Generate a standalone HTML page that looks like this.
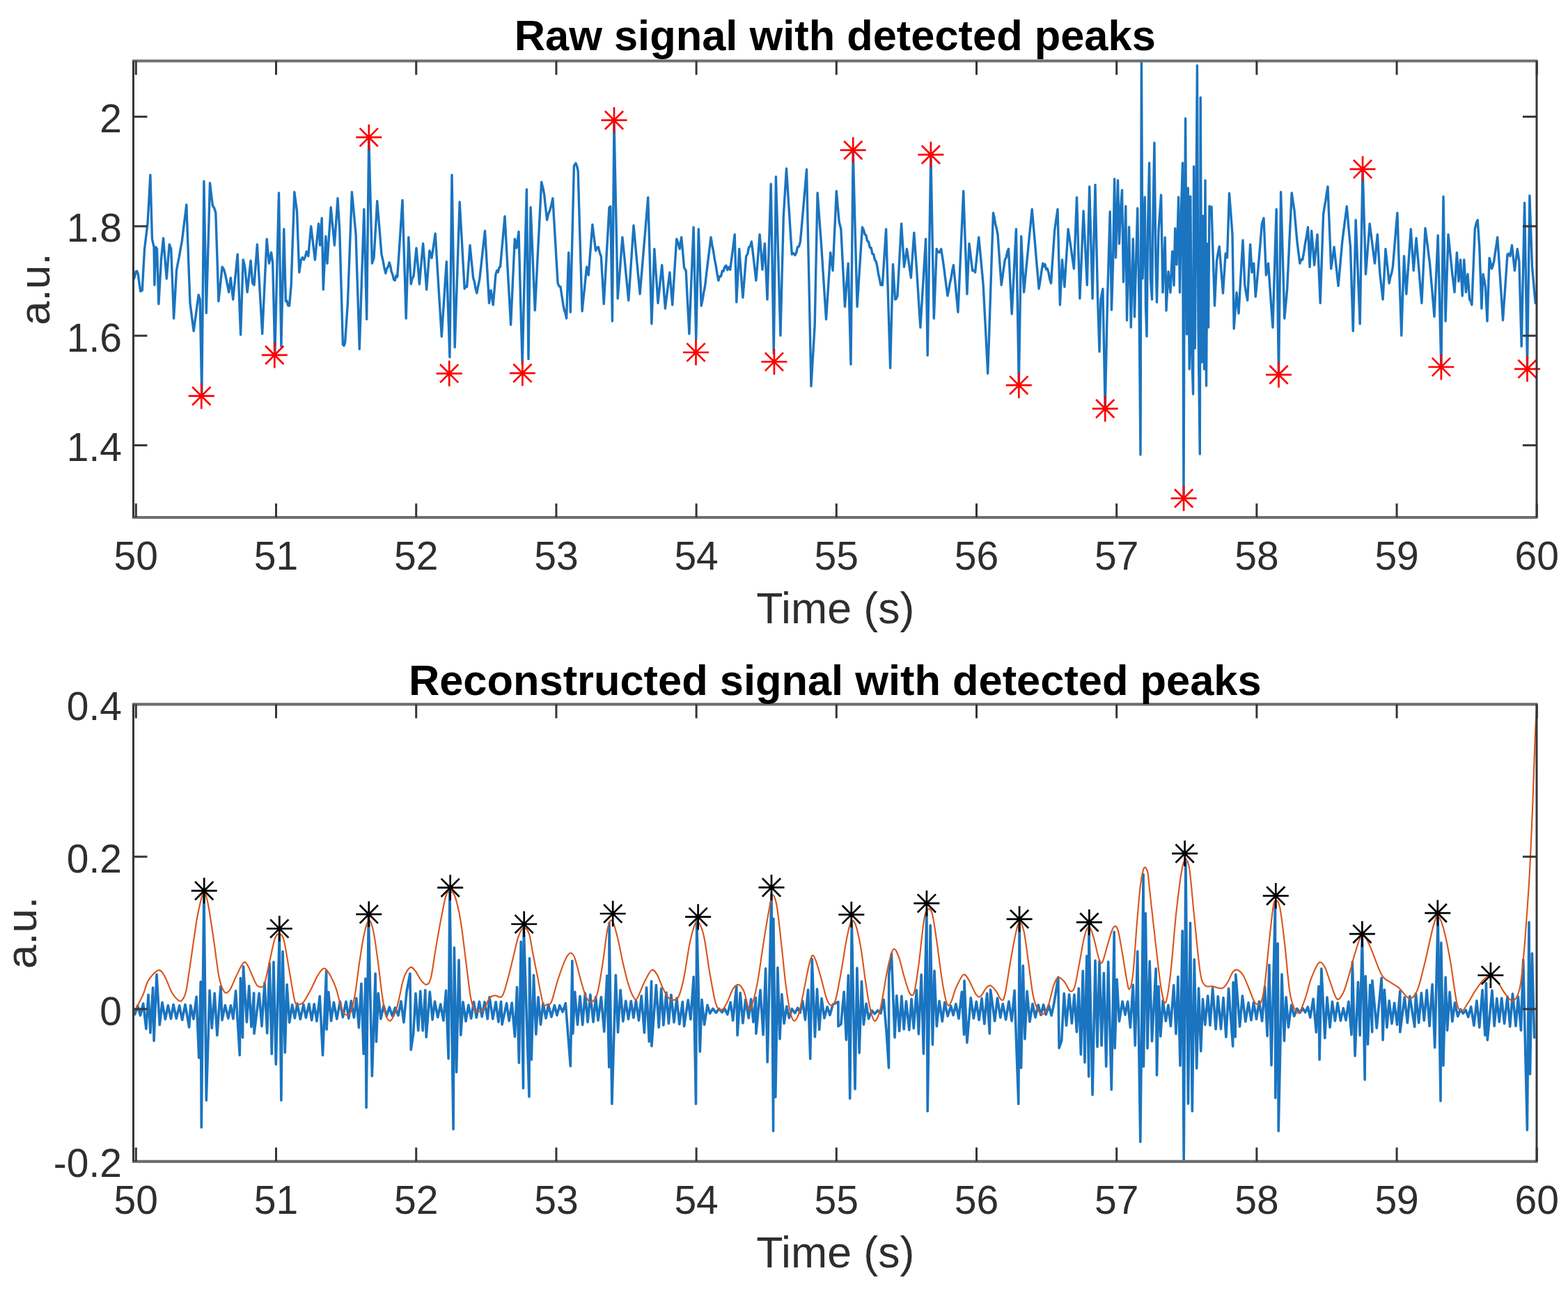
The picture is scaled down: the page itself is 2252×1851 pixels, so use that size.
<!DOCTYPE html>
<html><head><meta charset="utf-8"><title>Detected peaks</title>
<style>html,body{margin:0;padding:0;background:#fff;width:2252px;height:1851px;overflow:hidden}svg{display:block;filter:blur(0.6px)}</style>
</head><body>
<svg width="2252" height="1851" viewBox="0 0 2252 1851" font-family='"Liberation Sans", Arial, Helvetica, sans-serif' fill="#2e2e2e"><defs><clipPath id="ct"><rect x="191.5" y="87.5" width="2015.5" height="655.5"/></clipPath><clipPath id="cb"><rect x="191.5" y="1011.4" width="2015.5" height="656.4"/></clipPath></defs>
<g clip-path="url(#ct)">
<polyline points="190.0,409.3 191.7,401.6 193.5,397.4 195.2,389.8 196.7,389.3 198.3,393.7 200.0,406.2 201.7,418.3 204.3,417.0 205.9,387.2 207.6,357.4 209.8,339.3 212.0,321.1 214.0,286.1 215.9,251.1 218.5,343.2 221.1,354.8 221.9,409.3 223.7,354.8 225.5,357.4 227.9,436.5 229.7,404.7 231.5,373.0 233.0,357.4 234.6,341.9 236.1,361.3 237.7,380.7 239.3,400.2 241.2,375.6 243.2,350.9 245.7,357.4 247.7,407.3 249.6,457.2 251.6,422.9 253.5,388.5 255.5,377.5 257.4,368.5 259.4,356.5 261.3,347.0 262.9,333.8 264.5,320.5 266.2,307.2 267.8,293.9 269.5,341.0 271.2,388.1 273.0,435.2 274.7,448.5 276.4,462.1 278.2,475.4 279.9,462.3 281.7,449.6 283.4,436.3 285.2,423.5 287.2,430.0 289.8,567.4 291.4,413.8 292.9,260.2 294.6,354.8 296.3,449.5 298.0,387.2 299.8,325.0 301.5,262.8 303.4,279.0 305.4,295.2 307.6,298.5 309.8,305.6 311.9,369.1 313.9,432.6 315.7,416.2 317.4,399.8 319.1,383.3 321.3,386.5 323.5,393.7 326.1,406.7 328.7,419.6 331.3,398.9 333.0,414.5 334.7,430.0 336.2,414.5 337.8,398.9 339.5,382.0 341.2,365.2 343.4,422.9 345.6,480.6 347.4,426.8 349.2,373.0 350.6,378.1 352.0,385.9 353.6,402.8 355.2,419.6 356.8,404.5 358.4,389.4 360.1,374.3 362.7,406.7 365.0,409.3 367.2,380.1 369.4,350.9 371.2,383.0 373.0,415.1 374.9,447.2 376.7,479.3 378.3,445.2 379.9,411.2 381.5,377.2 383.2,343.2 384.8,360.7 386.5,378.2 388.1,369.6 389.6,362.6 391.7,378.2 393.3,444.3 394.8,510.4 396.7,432.6 398.6,354.8 400.5,277.0 402.2,387.2 403.9,497.4 405.8,413.2 407.8,328.9 410.4,432.6 412.1,432.0 413.8,438.9 415.6,439.1 418.2,409.3 419.7,364.8 421.3,320.3 422.8,275.7 424.6,289.2 426.5,303.0 428.1,347.0 429.8,391.1 432.4,373.0 434.4,369.8 436.3,373.0 438.2,369.3 440.2,361.3 442.8,367.8 444.7,346.4 446.7,325.0 448.6,341.0 450.5,357.0 452.4,373.0 454.1,355.7 455.8,338.4 457.6,321.1 459.6,352.2 462.2,313.3 464.3,415.8 466.1,377.5 467.9,339.3 470.0,378.2 471.7,351.4 473.5,324.6 475.2,297.8 476.9,315.9 478.7,334.1 480.4,352.2 481.9,329.8 483.5,307.3 485.0,284.8 486.4,308.2 487.8,331.5 489.3,385.9 490.9,440.4 492.4,494.8 494.0,496.3 495.6,492.2 497.5,463.7 499.4,435.2 501.4,382.0 503.4,328.9 505.4,275.7 507.3,296.1 509.2,316.4 511.1,336.7 512.8,391.6 514.6,446.4 516.3,501.3 517.9,451.1 519.5,400.8 521.2,350.6 522.8,300.4 524.7,379.5 526.7,458.5 528.2,327.6 529.8,196.7 531.3,257.2 532.9,317.7 534.4,378.2 537.0,370.4 538.6,343.2 540.2,315.9 541.7,288.7 543.8,314.2 545.9,339.7 547.9,365.2 549.9,373.3 551.9,384.5 553.9,392.4 555.6,385.5 557.3,383.4 559.1,376.9 560.7,382.1 562.3,390.5 563.9,394.1 565.6,401.5 567.3,402.7 569.0,395.8 570.7,397.6 572.6,370.1 574.4,342.5 576.2,315.0 578.0,287.4 579.7,344.0 581.5,400.6 583.2,457.2 585.0,398.9 586.8,340.6 588.5,374.3 590.2,408.0 592.1,400.1 594.1,396.3 596.0,376.2 598.0,356.1 600.2,382.0 602.4,408.0 604.1,388.5 605.8,369.1 607.6,349.6 609.3,371.7 611.0,393.7 612.7,415.8 614.8,387.9 616.9,360.0 618.4,364.0 620.0,370.4 621.7,359.0 623.5,346.7 625.2,335.4 627.0,364.9 628.8,394.5 630.6,424.0 632.5,453.6 634.3,483.2 636.0,456.3 637.8,429.4 639.5,402.5 641.3,375.6 642.8,421.4 644.4,467.2 645.9,513.0 647.5,382.0 649.0,251.1 651.1,374.9 653.2,498.7 654.9,446.5 656.7,394.4 658.4,342.2 660.2,290.0 661.9,321.1 663.7,352.2 665.4,383.3 667.2,414.5 668.9,411.4 670.6,411.9 672.8,382.0 675.0,352.2 676.5,367.8 678.1,383.3 679.6,398.9 681.4,404.7 683.1,414.5 684.8,420.9 686.8,410.5 688.7,401.5 690.7,384.0 692.6,366.5 694.5,349.0 696.5,331.5 698.5,366.1 700.5,400.6 702.5,435.2 705.0,417.0 706.6,427.0 708.2,437.8 710.1,415.8 712.0,393.7 713.7,388.5 715.3,390.9 716.9,384.2 718.5,383.3 720.1,365.2 721.8,347.0 723.4,328.9 725.0,310.7 726.7,341.9 728.4,373.0 730.1,404.1 731.9,435.2 733.6,466.3 735.5,425.3 737.4,384.2 739.3,343.2 741.9,356.1 743.4,344.2 745.0,332.8 746.7,396.3 748.4,459.8 750.2,523.3 752.2,439.5 754.3,355.7 756.4,271.9 759.0,515.6 760.5,406.7 762.1,297.8 764.2,347.0 766.2,396.3 768.3,445.6 770.2,408.8 772.0,371.9 773.9,335.1 775.8,298.3 777.6,261.5 779.7,269.1 781.7,279.6 783.6,297.8 785.6,315.9 787.5,307.5 789.4,303.0 791.6,295.6 793.9,284.8 795.7,315.3 797.5,345.7 799.3,376.2 801.1,406.7 803.1,411.1 805.0,411.9 806.9,424.5 808.9,437.8 810.4,445.3 812.0,449.4 813.6,457.2 815.1,409.9 816.7,362.6 819.3,448.2 821.0,378.2 822.7,308.2 824.4,238.2 827.0,234.3 828.6,238.6 830.2,245.9 832.1,312.9 834.1,379.9 836.1,446.9 837.7,431.0 839.4,415.1 841.0,399.2 842.6,383.3 845.2,395.0 847.1,370.8 849.0,346.6 850.9,322.4 852.4,334.9 854.0,347.5 855.6,360.0 857.5,355.5 859.4,354.8 861.4,363.1 863.3,367.8 865.3,402.1 867.2,436.5 869.2,401.8 871.1,367.1 873.1,332.5 875.0,297.8 876.8,296.5 879.4,461.1 882.0,173.3 883.7,258.5 885.5,343.6 887.2,428.7 888.9,406.7 890.6,384.6 892.2,362.6 893.9,340.6 895.7,358.7 897.5,376.9 899.2,395.0 901.0,413.2 902.7,431.3 904.6,404.4 906.4,377.5 908.2,350.6 910.0,323.7 911.8,343.4 913.6,363.1 915.4,382.8 917.3,402.5 919.1,422.2 921.0,399.1 923.0,376.0 924.9,352.9 926.9,329.8 928.8,306.6 930.7,283.5 932.5,344.0 934.2,404.5 935.9,465.0 937.9,411.2 939.8,357.4 941.5,383.3 943.3,409.3 945.0,435.2 946.9,417.0 948.8,398.9 950.7,380.7 952.3,401.5 953.8,422.2 955.4,443.0 957.0,430.0 958.6,417.0 960.2,404.1 961.9,391.1 963.8,414.5 965.7,437.8 967.7,406.2 969.7,374.7 971.7,343.2 973.9,348.7 976.1,357.4 978.7,340.6 980.7,362.6 982.6,384.6 985.2,388.5 986.7,418.8 988.3,449.0 989.9,479.3 991.9,428.3 994.0,377.3 996.1,326.3 997.9,406.7 999.7,487.0 1001.5,408.0 1003.3,328.9 1005.3,384.0 1007.2,439.1 1009.0,430.9 1010.7,419.9 1012.4,411.9 1014.1,397.6 1015.8,383.3 1017.5,369.1 1019.3,354.8 1021.0,340.6 1022.8,351.8 1024.6,360.8 1026.4,372.5 1028.2,381.4 1030.0,393.1 1031.9,402.8 1033.7,396.6 1035.5,396.9 1037.3,389.1 1039.1,389.5 1040.9,383.3 1042.9,381.2 1044.8,387.7 1046.8,383.6 1048.7,387.2 1050.3,374.7 1052.0,361.9 1053.6,349.4 1055.2,336.7 1057.8,433.9 1059.7,395.7 1061.7,357.4 1063.4,380.7 1065.1,404.1 1066.9,427.4 1068.5,407.5 1070.1,387.7 1071.7,367.8 1073.6,364.8 1075.6,355.1 1077.5,353.7 1079.4,347.0 1081.1,361.0 1082.7,374.9 1084.3,388.9 1085.9,402.8 1087.7,380.7 1089.4,358.7 1091.1,336.7 1093.1,362.0 1095.0,387.2 1096.7,368.4 1098.4,349.6 1100.2,389.8 1102.0,430.0 1103.7,374.7 1105.5,319.4 1107.2,264.1 1109.3,385.9 1111.3,507.8 1112.9,380.7 1114.4,253.7 1116.1,310.7 1117.7,367.8 1119.3,424.8 1120.9,481.9 1123.1,396.3 1125.3,310.7 1127.4,276.4 1129.5,242.0 1131.4,272.8 1133.4,303.6 1135.3,334.4 1137.3,365.2 1139.5,363.5 1141.7,366.5 1143.6,363.4 1145.6,354.4 1147.5,354.1 1149.4,347.0 1151.3,326.3 1153.1,305.6 1154.9,284.8 1156.7,264.1 1158.5,243.3 1160.1,321.1 1161.8,398.9 1163.4,476.7 1165.0,554.5 1166.7,525.1 1168.5,495.7 1170.2,466.3 1172.1,371.7 1174.1,277.0 1175.8,300.4 1177.5,323.7 1179.3,347.0 1181.1,374.9 1182.9,402.8 1184.7,430.7 1186.5,458.5 1188.6,426.6 1190.7,394.6 1192.7,362.6 1194.4,375.7 1196.1,388.5 1197.8,350.5 1199.6,312.5 1201.3,274.4 1203.2,296.5 1205.2,318.5 1207.8,328.9 1209.7,366.1 1211.6,403.2 1213.5,440.4 1215.0,419.6 1216.6,398.9 1218.2,378.2 1220.1,450.8 1222.0,523.3 1223.6,369.7 1225.2,216.1 1227.1,290.9 1229.1,365.6 1231.1,440.4 1232.9,411.9 1234.7,383.3 1236.6,354.8 1238.4,326.3 1240.2,329.5 1242.0,336.5 1243.8,337.7 1245.6,345.9 1247.5,347.4 1249.3,355.5 1251.1,355.7 1252.9,364.3 1254.7,365.3 1256.5,373.3 1258.3,375.6 1260.0,383.3 1261.6,393.6 1263.2,400.0 1264.8,409.3 1267.4,409.3 1269.1,382.5 1270.9,355.7 1272.6,328.9 1274.6,395.4 1276.6,462.0 1278.6,528.5 1280.5,454.0 1282.5,379.5 1284.0,404.7 1285.6,430.0 1287.2,429.2 1288.9,424.8 1290.8,390.3 1292.7,355.7 1294.6,321.1 1296.6,352.2 1298.5,383.3 1300.5,370.7 1302.4,357.4 1304.4,370.9 1306.4,385.4 1308.4,398.9 1310.6,366.5 1312.8,334.1 1314.7,361.3 1316.7,388.5 1318.4,415.8 1320.1,443.0 1321.9,470.2 1323.8,438.4 1325.8,406.7 1327.7,374.9 1329.6,343.2 1332.2,510.4 1333.8,414.5 1335.3,318.5 1336.9,222.6 1339.1,339.9 1341.3,457.2 1343.3,407.3 1345.2,357.4 1347.1,362.2 1349.1,362.6 1351.7,357.4 1353.6,369.8 1355.6,383.3 1357.3,397.2 1359.1,410.9 1360.9,424.8 1362.6,416.9 1364.3,406.3 1366.0,399.5 1367.7,388.7 1369.4,380.7 1371.1,397.6 1372.7,414.5 1374.3,431.3 1375.9,448.2 1377.9,404.7 1379.8,361.3 1381.8,317.9 1383.7,274.4 1385.4,323.7 1387.2,373.0 1388.9,422.2 1390.4,385.9 1392.0,349.6 1393.6,362.6 1395.1,375.6 1396.7,388.5 1398.6,388.1 1400.6,391.1 1402.3,374.3 1404.0,357.4 1405.7,340.6 1407.4,357.7 1409.0,374.9 1410.6,392.1 1412.2,409.3 1413.8,441.0 1415.5,472.8 1417.1,504.6 1418.7,536.3 1420.7,478.6 1422.6,420.9 1424.5,363.2 1426.5,305.6 1428.1,312.5 1429.7,322.1 1431.3,328.0 1433.0,336.7 1434.7,360.9 1436.4,385.1 1438.2,409.3 1439.9,397.5 1441.6,384.8 1443.3,373.0 1445.1,369.9 1446.8,361.2 1448.5,357.4 1450.1,388.5 1451.6,419.6 1453.2,450.8 1455.3,410.1 1457.3,369.5 1459.4,328.9 1461.4,440.4 1463.3,551.9 1465.0,445.6 1466.7,339.3 1468.6,379.5 1470.6,419.6 1472.5,399.8 1474.4,379.9 1476.4,360.0 1478.3,340.1 1480.3,320.3 1482.2,300.4 1484.2,323.2 1486.2,346.0 1488.1,368.8 1490.1,391.6 1492.1,414.5 1494.0,402.9 1495.9,389.6 1497.8,378.2 1499.4,382.6 1501.0,379.5 1502.6,386.8 1504.3,385.9 1506.0,391.6 1507.7,400.9 1509.5,406.7 1511.2,381.6 1512.9,356.6 1514.6,331.5 1516.8,315.6 1519.0,300.4 1520.7,369.1 1522.4,437.8 1524.0,405.4 1525.5,373.0 1527.2,392.4 1528.9,411.9 1530.6,384.2 1532.4,356.6 1534.1,328.9 1536.0,341.4 1538.0,354.8 1540.2,370.8 1542.4,385.9 1544.5,334.7 1546.5,283.5 1548.7,356.1 1550.9,428.7 1552.7,386.8 1554.4,344.9 1556.1,303.0 1557.8,338.4 1559.6,373.8 1561.3,409.3 1563.0,338.6 1564.7,268.0 1566.9,348.3 1569.1,428.7 1571.0,347.0 1573.0,265.4 1574.7,345.7 1576.5,426.0 1579.0,505.0 1581.0,430.0 1582.5,421.7 1583.9,415.0 1585.6,500.9 1587.2,586.9 1588.9,506.9 1590.6,427.0 1592.4,365.5 1594.2,304.0 1596.5,445.0 1598.5,380.0 1600.6,257.0 1602.5,370.0 1604.0,314.5 1605.5,259.0 1607.5,350.0 1609.5,300.0 1611.5,273.0 1613.5,405.0 1615.2,350.5 1616.8,296.0 1618.5,460.0 1620.0,393.0 1621.6,326.0 1622.9,398.0 1624.3,470.0 1625.8,406.5 1627.3,343.0 1629.5,455.0 1631.5,380.0 1633.7,299.0 1636.0,430.0 1638.0,653.0 1639.4,80.0 1641.0,400.0 1642.6,341.5 1644.2,283.0 1645.5,440.0 1647.0,483.0 1648.5,330.0 1650.6,234.0 1652.5,400.0 1654.5,430.0 1656.2,300.0 1657.9,205.0 1660.0,380.0 1661.5,434.0 1664.0,330.0 1665.8,305.0 1667.6,280.0 1670.0,420.0 1671.6,380.5 1673.2,341.0 1675.0,446.0 1676.5,418.0 1678.0,390.0 1679.5,405.0 1681.0,420.0 1682.3,390.5 1683.7,361.0 1686.0,410.0 1687.7,328.0 1690.0,380.0 1692.6,283.0 1694.5,420.0 1696.5,300.0 1698.5,234.0 1699.3,500.0 1700.0,716.0 1701.0,400.0 1702.6,170.0 1704.5,480.0 1706.3,270.0 1708.2,530.0 1709.8,282.0 1711.5,500.0 1713.6,566.0 1714.6,239.0 1716.3,500.0 1718.0,290.0 1719.4,94.0 1721.0,470.0 1723.3,652.0 1724.2,140.0 1726.0,520.0 1727.8,310.0 1729.5,530.0 1731.0,259.0 1732.5,554.0 1734.0,350.0 1735.5,470.0 1737.0,296.0 1738.5,299.1 1740.0,297.0 1742.2,368.0 1744.5,439.0 1746.0,407.0 1747.5,375.0 1749.3,363.6 1751.2,354.0 1753.0,376.3 1754.7,398.7 1756.5,421.0 1758.3,392.5 1760.2,364.0 1762.5,370.0 1764.0,323.8 1765.5,277.5 1767.8,307.2 1770.0,337.0 1772.2,472.0 1774.1,446.0 1776.0,420.0 1777.5,435.0 1779.0,450.0 1781.0,415.0 1783.0,380.0 1785.0,345.0 1786.4,377.1 1787.8,409.3 1789.7,421.1 1791.7,431.3 1793.6,391.1 1795.6,350.9 1798.1,391.1 1800.7,378.2 1803.3,426.1 1805.9,398.9 1807.5,379.5 1809.2,360.0 1810.8,340.6 1812.4,321.1 1815.0,313.3 1816.7,354.2 1818.4,395.0 1819.9,387.3 1821.5,378.2 1823.1,401.2 1824.7,424.2 1826.3,447.2 1828.0,470.2 1829.7,413.6 1831.4,357.0 1833.2,300.4 1834.8,419.6 1836.5,538.9 1838.1,407.3 1839.6,275.7 1841.4,336.2 1843.1,396.7 1844.8,457.2 1846.8,435.8 1848.7,414.5 1850.3,380.1 1851.9,345.7 1853.6,311.4 1855.2,277.0 1857.1,290.3 1859.1,303.0 1861.0,325.0 1863.0,347.0 1864.9,362.6 1866.9,378.2 1868.8,372.7 1870.7,373.0 1872.7,362.2 1874.6,349.2 1876.6,338.6 1878.5,326.3 1881.1,383.3 1883.7,331.5 1885.7,356.1 1887.6,380.7 1889.8,358.7 1892.0,336.7 1894.1,385.9 1896.2,435.2 1898.4,371.7 1900.6,308.2 1902.2,297.6 1903.8,288.8 1905.4,277.5 1907.0,268.0 1908.6,307.3 1910.2,346.6 1911.7,385.9 1913.9,370.7 1916.1,354.8 1918.1,373.4 1920.1,392.0 1922.1,410.6 1924.0,389.4 1925.9,368.2 1927.8,347.0 1929.4,334.3 1931.0,321.8 1932.6,309.1 1934.3,296.5 1936.0,315.9 1937.7,335.4 1939.5,354.8 1941.4,415.1 1943.3,475.4 1945.3,395.7 1947.2,315.9 1949.2,365.6 1951.2,415.3 1953.2,465.0 1955.1,354.2 1957.1,243.3 1959.3,318.5 1961.5,393.7 1963.4,369.5 1965.3,345.3 1967.2,321.1 1969.0,335.4 1970.8,349.6 1972.6,364.0 1974.5,378.2 1976.4,357.4 1978.3,336.7 1980.0,363.9 1981.7,391.1 1983.9,410.6 1986.1,430.0 1988.1,393.7 1990.0,357.4 1991.7,373.8 1993.5,390.3 1995.2,406.7 1996.9,397.8 1998.7,392.2 2000.4,383.3 2002.0,363.9 2003.6,344.5 2005.2,325.0 2006.9,305.6 2008.8,364.3 2010.8,423.1 2012.8,481.9 2014.6,424.8 2016.5,367.8 2018.1,395.0 2019.8,422.2 2021.4,398.9 2023.1,375.6 2024.7,352.2 2026.3,328.9 2028.2,358.7 2030.2,388.5 2032.1,365.2 2034.1,341.9 2036.0,365.2 2038.0,388.5 2039.9,411.9 2041.9,435.2 2043.6,399.3 2045.3,363.5 2047.0,327.6 2048.7,340.3 2050.3,352.8 2051.9,365.6 2053.5,378.2 2055.1,397.3 2056.8,416.4 2058.4,435.5 2060.0,454.6 2061.7,415.8 2063.5,376.9 2065.2,338.0 2066.8,401.1 2068.3,464.1 2069.9,527.2 2071.4,404.7 2073.0,282.2 2074.5,371.7 2076.1,461.1 2078.0,398.9 2080.0,336.7 2082.0,355.7 2083.9,374.7 2085.9,393.7 2087.5,406.7 2089.0,419.6 2090.7,391.1 2092.4,362.6 2095.0,404.1 2097.6,373.0 2100.2,424.8 2102.8,373.0 2105.4,419.6 2108.0,393.7 2110.6,430.0 2112.2,432.3 2113.9,437.8 2116.1,383.3 2118.3,328.9 2120.3,320.4 2122.2,315.9 2124.8,354.8 2126.4,398.9 2127.9,443.0 2130.0,393.7 2131.7,401.8 2133.4,411.9 2136.0,461.1 2137.5,415.8 2139.1,370.4 2140.8,377.0 2142.4,385.9 2144.0,382.2 2145.6,375.6 2147.3,363.6 2149.0,352.5 2150.7,340.6 2152.7,370.4 2154.6,400.2 2156.6,430.0 2158.5,459.8 2160.1,436.2 2161.8,412.5 2163.4,388.9 2165.0,365.2 2166.9,364.2 2168.9,367.8 2171.5,352.2 2173.4,370.4 2175.4,388.5 2177.3,373.0 2179.3,357.4 2181.9,375.6 2183.5,436.5 2185.2,497.4 2187.4,394.4 2189.6,291.3 2191.6,408.6 2193.5,525.9 2195.2,403.4 2196.9,280.9 2198.7,332.1 2200.5,383.3 2202.1,400.6 2203.6,417.9 2205.2,435.2 2207.1,421.7 2209.1,409.3" fill="none" stroke="#1a74bf" stroke-width="3.4" stroke-linejoin="round" stroke-linecap="round"/>
</g>
<path d="M270.8 568.7H307.8M289.3 550.2V587.2M276.2 555.6L302.4 581.8M276.2 581.8L302.4 555.6" stroke="#ff0000" stroke-width="2.7" fill="none"/>
<path d="M375.8 509.9H412.8M394.3 491.4V528.4M381.2 496.8L407.4 523.0M381.2 523.0L407.4 496.8" stroke="#ff0000" stroke-width="2.7" fill="none"/>
<path d="M511.3 197.2H548.3M529.8 178.7V215.7M516.7 184.1L542.9 210.3M516.7 210.3L542.9 184.1" stroke="#ff0000" stroke-width="2.7" fill="none"/>
<path d="M626.7 536.3H663.7M645.2 517.8V554.8M632.1 523.2L658.3 549.4M632.1 549.4L658.3 523.2" stroke="#ff0000" stroke-width="2.7" fill="none"/>
<path d="M731.9 535.8H768.9M750.4 517.3V554.3M737.3 522.7L763.5 548.9M737.3 548.9L763.5 522.7" stroke="#ff0000" stroke-width="2.7" fill="none"/>
<path d="M863.5 172.6H900.5M882.0 154.1V191.1M868.9 159.5L895.1 185.7M868.9 185.7L895.1 159.5" stroke="#ff0000" stroke-width="2.7" fill="none"/>
<path d="M981.0 506.0H1018.0M999.5 487.5V524.5M986.4 492.9L1012.6 519.1M986.4 519.1L1012.6 492.9" stroke="#ff0000" stroke-width="2.7" fill="none"/>
<path d="M1093.4 519.5H1130.4M1111.9 501.0V538.0M1098.8 506.4L1125.0 532.6M1098.8 532.6L1125.0 506.4" stroke="#ff0000" stroke-width="2.7" fill="none"/>
<path d="M1206.7 215.6H1243.7M1225.2 197.1V234.1M1212.1 202.5L1238.3 228.7M1212.1 228.7L1238.3 202.5" stroke="#ff0000" stroke-width="2.7" fill="none"/>
<path d="M1318.4 222.1H1355.4M1336.9 203.6V240.6M1323.8 209.0L1350.0 235.2M1323.8 235.2L1350.0 209.0" stroke="#ff0000" stroke-width="2.7" fill="none"/>
<path d="M1444.8 553.2H1481.8M1463.3 534.7V571.7M1450.2 540.1L1476.4 566.3M1450.2 566.3L1476.4 540.1" stroke="#ff0000" stroke-width="2.7" fill="none"/>
<path d="M1568.7 586.9H1605.7M1587.2 568.4V605.4M1574.1 573.8L1600.3 600.0M1574.1 600.0L1600.3 573.8" stroke="#ff0000" stroke-width="2.7" fill="none"/>
<path d="M1681.6 715.6H1718.6M1700.1 697.1V734.1M1687.0 702.5L1713.2 728.7M1687.0 728.7L1713.2 702.5" stroke="#ff0000" stroke-width="2.7" fill="none"/>
<path d="M1818.0 538.1H1855.0M1836.5 519.6V556.6M1823.4 525.0L1849.6 551.2M1823.4 551.2L1849.6 525.0" stroke="#ff0000" stroke-width="2.7" fill="none"/>
<path d="M1938.6 242.8H1975.6M1957.1 224.3V261.3M1944.0 229.7L1970.2 255.9M1944.0 255.9L1970.2 229.7" stroke="#ff0000" stroke-width="2.7" fill="none"/>
<path d="M2051.4 527.0H2088.4M2069.9 508.5V545.5M2056.8 513.9L2083.0 540.1M2056.8 540.1L2083.0 513.9" stroke="#ff0000" stroke-width="2.7" fill="none"/>
<path d="M2175.0 529.8H2212.0M2193.5 511.3V548.3M2180.4 516.7L2206.6 542.9M2180.4 542.9L2206.6 516.7" stroke="#ff0000" stroke-width="2.7" fill="none"/>
<g clip-path="url(#cb)">
<polyline points="190.0,1444.7 193.7,1456.7 197.7,1444.2 201.6,1458.2 205.7,1441.1 209.9,1477.4 213.0,1428.5 216.0,1483.1 219.6,1418.3 221.1,1494.6 225.0,1399.3 229.3,1471.8 233.0,1439.5 237.4,1463.6 241.4,1443.8 245.5,1462.9 249.1,1442.5 253.3,1462.6 257.7,1444.1 261.7,1464.6 266.0,1442.6 271.7,1475.1 273.7,1443.6 278.0,1463.3 282.1,1431.4 285.7,1518.9 288.2,1409.9 289.3,1619.0 292.9,1278.8 296.3,1580.1 301.1,1422.3 304.3,1476.4 308.2,1426.3 311.9,1486.8 317.0,1416.2 319.0,1465.0 323.4,1443.6 327.8,1462.4 331.4,1443.8 334.9,1463.0 338.6,1422.9 344.3,1515.3 345.4,1404.5 348.5,1490.0 349.5,1387.7 354.4,1467.8 357.7,1415.8 361.0,1474.7 364.7,1426.0 365.0,1484.2 372.2,1426.3 376.0,1473.6 380.0,1411.2 383.7,1483.8 387.1,1383.2 390.3,1513.4 393.0,1381.3 396.3,1528.4 401.3,1341.0 403.9,1580.1 406.1,1366.2 409.3,1511.5 412.1,1413.7 415.7,1468.2 419.7,1442.9 423.4,1462.1 426.9,1441.1 431.3,1463.6 435.9,1442.6 439.4,1461.4 443.8,1441.5 447.7,1464.9 451.2,1441.8 455.0,1466.4 459.3,1430.5 463.5,1515.3 468.7,1394.2 469.1,1478.3 471.8,1424.5 475.6,1466.0 479.4,1439.4 483.8,1463.3 488.4,1438.2 492.4,1460.7 497.0,1438.2 500.8,1462.5 504.3,1437.2 508.4,1461.1 511.8,1433.4 515.4,1475.7 518.9,1412.6 522.2,1513.5 524.9,1405.3 526.1,1590.5 529.3,1315.1 534.4,1545.1 539.1,1398.0 540.4,1496.0 543.3,1426.4 546.9,1463.0 551.0,1444.1 555.1,1459.1 559.3,1446.2 563.3,1458.6 567.5,1447.0 572.0,1458.1 576.0,1437.9 579.9,1468.1 584.1,1423.7 588.9,1398.0 590.2,1507.5 593.7,1484.6 597.0,1426.5 600.7,1479.8 603.7,1423.3 607.2,1479.9 610.8,1421.8 612.2,1489.4 617.3,1424.4 621.1,1464.2 624.5,1438.0 628.7,1460.8 632.7,1442.1 636.9,1465.5 640.6,1422.3 644.1,1520.1 645.9,1278.8 651.1,1621.6 652.4,1360.7 655.6,1539.8 659.0,1378.6 661.8,1486.4 665.0,1438.8 669.0,1466.6 672.8,1443.2 676.7,1462.6 680.4,1438.5 684.3,1461.1 688.4,1438.2 692.2,1459.9 696.0,1438.7 700.3,1463.1 703.0,1431.7 707.8,1463.1 712.1,1438.8 715.9,1467.4 719.6,1438.3 721.1,1471.2 727.6,1440.7 731.2,1466.0 735.2,1440.0 739.4,1488.6 742.5,1417.6 745.4,1526.1 748.2,1352.3 751.5,1562.7 752.2,1330.6 760.0,1574.9 760.5,1376.1 763.3,1521.6 766.5,1400.3 769.8,1485.3 773.1,1431.9 776.5,1471.3 780.0,1440.9 784.0,1462.1 787.6,1442.8 792.0,1460.3 796.4,1443.7 800.0,1458.0 803.8,1443.7 808.1,1453.1 812.3,1440.7 819.3,1530.9 821.9,1379.9 822.8,1484.1 825.6,1424.4 829.5,1471.4 833.0,1430.6 836.7,1471.7 840.4,1426.3 844.1,1467.8 847.8,1428.2 852.1,1467.6 855.6,1431.7 859.0,1465.3 863.4,1431.7 867.7,1481.3 871.8,1401.0 874.8,1532.5 875.0,1325.4 878.9,1585.3 884.3,1400.3 887.5,1482.4 891.1,1421.7 894.8,1466.7 898.7,1437.4 902.5,1463.4 906.3,1437.5 909.9,1461.4 913.4,1437.1 917.5,1465.4 921.2,1430.1 925.4,1483.0 928.5,1418.0 932.3,1495.8 935.6,1409.0 935.9,1502.3 942.4,1414.5 946.2,1475.4 949.7,1419.6 952.9,1472.2 956.9,1425.3 960.4,1469.8 963.9,1428.5 968.0,1468.0 971.9,1433.4 975.8,1470.7 980.3,1438.5 982.6,1473.8 988.2,1436.0 991.9,1463.8 996.2,1402.8 999.5,1585.3 1000.7,1320.3 1005.3,1510.3 1008.0,1435.6 1011.6,1471.5 1016.0,1443.2 1019.6,1455.2 1023.9,1448.3 1028.4,1454.3 1032.8,1448.6 1037.2,1453.7 1040.6,1448.4 1044.8,1456.8 1049.2,1439.3 1052.7,1465.4 1057.8,1416.2 1059.1,1486.8 1063.2,1425.9 1066.9,1469.1 1070.8,1435.2 1075.2,1462.0 1078.6,1434.7 1082.0,1467.8 1085.5,1432.8 1085.9,1484.2 1092.0,1421.8 1096.1,1485.9 1099.6,1390.9 1102.2,1525.1 1108.0,1284.0 1110.6,1624.2 1110.9,1319.2 1113.8,1575.5 1116.9,1389.5 1120.0,1491.9 1122.8,1427.7 1126.1,1469.8 1129.8,1445.0 1133.4,1461.8 1137.4,1448.7 1141.7,1454.8 1145.6,1447.4 1149.1,1454.3 1152.7,1437.2 1156.5,1464.4 1160.6,1421.4 1163.7,1520.5 1166.3,1377.3 1170.4,1488.9 1173.5,1420.4 1176.7,1478.6 1180.1,1433.7 1183.9,1462.0 1188.1,1445.9 1192.0,1457.6 1196.2,1442.3 1203.9,1438.7 1203.9,1473.8 1207.9,1470.6 1212.1,1424.2 1215.4,1493.2 1218.3,1400.6 1220.7,1577.5 1223.3,1322.9 1228.0,1564.0 1230.9,1390.1 1234.2,1511.9 1237.5,1409.4 1240.4,1471.2 1244.1,1441.3 1247.6,1462.9 1252.0,1451.0 1256.2,1455.9 1260.7,1451.0 1265.0,1455.2 1269.2,1435.4 1273.5,1486.6 1276.5,1533.5 1276.7,1398.0 1280.4,1369.5 1285.0,1489.8 1287.8,1429.7 1291.7,1480.7 1294.9,1430.2 1298.2,1478.0 1301.5,1437.7 1305.8,1479.1 1309.1,1434.6 1312.3,1476.7 1316.3,1421.7 1319.4,1485.0 1323.2,1399.5 1326.4,1513.3 1330.9,1307.3 1332.2,1595.7 1336.2,1328.7 1339.4,1500.1 1342.0,1394.1 1345.3,1473.7 1349.1,1437.5 1353.3,1466.7 1356.8,1439.4 1361.1,1459.2 1365.7,1444.4 1369.1,1457.8 1372.9,1441.7 1377.0,1462.8 1381.4,1424.2 1384.6,1485.8 1385.0,1408.4 1388.9,1497.2 1394.3,1432.9 1398.4,1462.4 1402.3,1438.4 1406.1,1464.7 1410.0,1433.9 1413.8,1470.3 1417.6,1426.5 1421.3,1484.2 1422.6,1421.4 1428.7,1466.2 1432.5,1433.3 1436.8,1461.3 1440.3,1441.5 1444.6,1464.1 1448.9,1438.0 1453.1,1466.1 1457.0,1422.4 1462.8,1585.3 1464.1,1325.4 1466.6,1533.5 1469.3,1386.8 1471.9,1492.0 1475.1,1423.4 1479.0,1467.2 1483.0,1441.6 1487.0,1460.9 1491.2,1443.0 1494.9,1457.5 1498.6,1442.8 1502.2,1457.1 1506.3,1443.5 1510.1,1458.3 1513.8,1441.0 1519.8,1403.2 1521.1,1504.9 1524.7,1494.4 1528.2,1426.5 1531.5,1472.7 1535.6,1428.0 1539.4,1469.5 1542.9,1428.2 1546.4,1481.8 1549.3,1419.2 1552.4,1514.2 1555.2,1394.4 1558.0,1525.7 1560.8,1372.8 1563.7,1545.9 1563.9,1330.6 1569.1,1572.3 1573.0,1379.3 1576.0,1503.1 1579.1,1380.2 1582.1,1501.5 1585.4,1397.2 1588.7,1531.4 1591.7,1381.1 1596.3,1564.6 1600.2,1338.4 1601.2,1505.3 1604.1,1406.3 1607.5,1466.6 1612.1,1438.0 1616.0,1457.2 1619.7,1438.2 1623.4,1475.5 1627.2,1414.4 1630.3,1501.4 1633.7,1366.1 1637.8,1639.8 1642.1,1255.6 1642.5,1531.6 1645.3,1311.6 1648.0,1505.5 1651.2,1380.4 1654.5,1495.2 1660.1,1391.1 1661.5,1543.9 1664.0,1416.4 1666.8,1488.2 1670.2,1436.8 1674.4,1466.2 1677.9,1443.2 1681.4,1473.5 1685.7,1414.8 1689.0,1484.6 1691.9,1402.6 1695.0,1530.2 1698.2,1336.7 1700.2,1665.6 1702.9,1233.5 1706.5,1584.9 1709.5,1325.2 1712.3,1595.8 1715.3,1377.9 1718.7,1534.2 1721.6,1419.1 1724.7,1509.5 1727.5,1434.8 1730.8,1471.6 1734.7,1430.1 1738.0,1472.3 1741.6,1418.8 1746.1,1477.8 1749.3,1430.7 1753.5,1477.6 1757.0,1432.7 1760.9,1489.2 1764.6,1419.5 1770.7,1502.5 1771.1,1410.5 1774.2,1489.0 1774.8,1399.4 1780.6,1474.2 1784.4,1430.0 1788.8,1467.0 1793.0,1439.9 1797.0,1464.9 1800.5,1439.2 1804.5,1463.5 1808.4,1438.1 1812.6,1466.3 1816.6,1417.0 1820.1,1487.8 1822.9,1385.5 1826.0,1529.8 1831.5,1297.1 1831.8,1576.6 1835.2,1354.7 1836.2,1624.1 1841.0,1399.0 1844.4,1494.8 1847.1,1431.9 1850.5,1475.3 1854.6,1443.4 1858.7,1459.2 1862.8,1448.4 1867.0,1454.4 1870.9,1447.7 1874.7,1453.8 1878.3,1446.0 1881.8,1461.1 1886.1,1434.4 1890.4,1482.3 1893.9,1416.3 1895.1,1521.8 1897.9,1391.1 1902.8,1490.6 1906.0,1432.1 1910.1,1475.3 1913.4,1438.3 1917.4,1465.9 1921.1,1440.0 1925.4,1465.7 1929.3,1447.8 1933.0,1465.1 1936.9,1438.2 1941.0,1485.9 1942.3,1381.4 1946.1,1516.3 1950.5,1410.2 1953.2,1487.0 1956.4,1343.3 1960.2,1550.5 1961.2,1401.8 1964.5,1499.7 1967.7,1414.3 1970.7,1482.0 1970.9,1408.0 1977.2,1476.3 1984.2,1404.2 1986.1,1493.5 1988.4,1421.3 1991.9,1475.5 1995.2,1437.0 1999.0,1470.0 2002.6,1440.2 2006.6,1471.5 2010.8,1423.2 2010.8,1482.1 2017.3,1432.1 2021.4,1468.7 2024.8,1430.6 2031.7,1474.5 2033.4,1426.8 2037.7,1468.8 2041.4,1425.9 2045.3,1465.4 2049.2,1421.9 2053.1,1473.4 2057.1,1413.5 2060.7,1504.1 2065.2,1316.7 2069.0,1581.0 2069.8,1353.7 2072.9,1530.2 2076.1,1403.4 2078.6,1479.6 2082.1,1424.5 2085.8,1466.9 2089.6,1439.8 2093.7,1459.5 2097.6,1449.5 2101.3,1455.3 2105.3,1450.3 2108.7,1460.5 2112.7,1445.7 2116.9,1472.8 2120.9,1437.1 2124.8,1475.2 2129.0,1421.7 2132.9,1486.6 2134.4,1411.8 2136.3,1493.5 2143.0,1422.3 2146.2,1473.4 2149.8,1433.9 2153.3,1467.4 2156.7,1433.3 2160.6,1469.9 2165.0,1431.1 2168.7,1474.2 2172.5,1427.0 2177.0,1473.4 2180.4,1431.4 2184.5,1479.7 2187.7,1378.1 2193.4,1622.8 2196.0,1324.3 2197.5,1542.4 2200.4,1369.0 2203.6,1490.0" fill="none" stroke="#1a74bf" stroke-width="3.6" stroke-linejoin="round" stroke-linecap="round"/>
<path d="M190.0,1456.7C191.3,1454.5 195.2,1448.5 197.8,1443.7C200.4,1439.0 203.0,1434.2 205.6,1428.2C208.1,1422.1 209.7,1413.2 213.3,1407.4C217.0,1401.6 223.7,1394.0 227.6,1393.2C231.5,1392.3 233.4,1396.8 236.7,1402.2C239.9,1407.6 243.6,1419.7 247.0,1425.6C250.5,1431.4 254.8,1435.7 257.4,1437.2C260.0,1438.7 260.9,1437.4 262.6,1434.6C264.3,1431.8 265.6,1431.4 267.8,1420.4C269.9,1409.4 273.0,1385.8 275.6,1368.5C278.2,1351.2 280.7,1330.9 283.3,1316.7C285.9,1302.4 289.4,1289.0 291.1,1283.0C292.8,1276.9 292.4,1277.8 293.7,1280.4C295.0,1283.0 296.7,1287.3 298.9,1298.5C301.1,1309.8 304.1,1330.5 306.7,1347.8C309.3,1365.1 311.9,1389.5 314.4,1402.2C317.0,1415.0 319.6,1421.0 322.2,1424.3C324.8,1427.5 327.2,1425.3 330.0,1421.7C332.8,1418.0 335.8,1408.7 339.1,1402.2C342.3,1395.7 346.6,1385.4 349.5,1382.8C352.3,1380.2 353.1,1382.1 355.9,1386.7C358.7,1391.2 363.7,1405.0 366.3,1410.0C368.9,1415.0 369.3,1415.8 371.5,1416.5C373.6,1417.1 376.7,1419.7 379.3,1413.9C381.9,1408.1 384.5,1392.5 387.0,1381.5C389.6,1370.5 392.4,1354.5 394.8,1347.8C397.2,1341.1 399.1,1340.9 401.3,1341.3C403.5,1341.7 405.4,1341.5 407.8,1350.4C410.2,1359.2 413.0,1380.0 415.6,1394.5C418.2,1408.9 421.2,1429.2 423.3,1437.2C425.5,1445.2 426.4,1442.2 428.5,1442.4C430.7,1442.6 433.3,1442.2 436.3,1438.5C439.3,1434.9 443.2,1426.9 446.7,1420.4C450.1,1413.9 453.8,1404.6 457.0,1399.6C460.3,1394.7 463.1,1390.1 466.1,1390.6C469.1,1391.0 472.4,1397.3 475.2,1402.2C478.0,1407.2 480.5,1413.0 483.0,1420.4C485.4,1427.7 487.9,1440.3 490.0,1446.3C492.1,1452.4 493.3,1455.4 495.6,1456.7C497.8,1458.0 501.0,1458.8 503.3,1454.1C505.7,1449.3 507.7,1440.3 509.8,1428.2C512.0,1416.1 514.1,1395.7 516.3,1381.5C518.5,1367.2 520.6,1352.5 522.8,1342.6C524.9,1332.7 527.1,1323.2 529.3,1321.9C531.4,1320.6 533.6,1325.7 535.7,1334.8C537.9,1343.9 540.1,1360.7 542.2,1376.3C544.4,1391.9 546.8,1414.8 548.7,1428.2C550.7,1441.6 551.9,1450.4 553.9,1456.7C555.8,1462.9 558.0,1466.4 560.4,1465.8C562.7,1465.1 566.0,1458.2 568.2,1452.8C570.3,1447.4 571.4,1441.3 573.3,1433.3C575.3,1425.3 577.2,1412.2 579.8,1404.8C582.4,1397.5 586.1,1391.0 588.9,1389.3C591.7,1387.5 594.1,1391.4 596.7,1394.5C599.3,1397.5 601.9,1404.2 604.4,1407.4C607.0,1410.7 609.9,1414.3 612.2,1413.9C614.6,1413.5 616.5,1412.8 618.7,1404.8C620.9,1396.8 622.8,1379.8 625.2,1365.9C627.6,1352.1 630.4,1335.3 633.0,1321.9C635.6,1308.5 638.4,1292.5 640.7,1285.6C643.1,1278.6 645.1,1279.9 647.2,1280.4C649.4,1280.8 651.3,1281.2 653.7,1288.2C656.1,1295.1 658.9,1306.3 661.5,1321.9C664.1,1337.4 666.9,1363.3 669.3,1381.5C671.6,1399.6 673.8,1419.5 675.7,1430.7C677.7,1442.0 679.0,1445.2 680.9,1448.9C682.9,1452.6 685.0,1452.8 687.4,1452.8C689.8,1452.8 692.6,1452.1 695.2,1448.9C697.8,1445.7 700.4,1436.6 703.0,1433.3C705.6,1430.1 707.7,1429.9 710.7,1429.5C713.8,1429.0 718.1,1434.4 721.1,1430.7C724.1,1427.1 726.3,1416.5 728.9,1407.4C731.5,1398.3 734.1,1386.7 736.7,1376.3C739.3,1365.9 741.9,1352.5 744.5,1345.2C747.0,1337.8 749.6,1332.9 752.2,1332.2C754.8,1331.6 757.8,1335.3 760.0,1341.3C762.2,1347.4 763.0,1357.5 765.2,1368.5C767.4,1379.5 770.5,1395.3 773.0,1407.4C775.4,1419.5 777.9,1435.3 780.0,1441.1C782.1,1447.0 783.5,1442.8 785.6,1442.4C787.6,1442.0 789.4,1444.4 792.0,1438.5C794.6,1432.7 797.9,1417.4 801.1,1407.4C804.4,1397.5 808.5,1385.4 811.5,1378.9C814.5,1372.4 816.9,1369.0 819.3,1368.5C821.6,1368.1 823.2,1369.4 825.7,1376.3C828.3,1383.2 832.0,1400.5 834.8,1410.0C837.6,1419.5 840.0,1428.6 842.6,1433.3C845.2,1438.1 847.8,1439.8 850.4,1438.5C853.0,1437.2 855.6,1435.1 858.2,1425.6C860.7,1416.1 863.6,1396.6 865.9,1381.5C868.3,1366.4 870.3,1344.8 872.4,1334.8C874.6,1324.9 876.5,1320.1 878.9,1321.9C881.3,1323.6 884.1,1335.3 886.7,1345.2C889.3,1355.1 891.9,1370.3 894.4,1381.5C897.0,1392.7 899.6,1404.2 902.2,1412.6C904.8,1421.0 907.8,1428.6 910.0,1432.0C912.2,1435.5 912.6,1437.0 915.2,1433.3C917.8,1429.7 922.1,1416.7 925.6,1410.0C929.0,1403.3 932.9,1394.9 935.9,1393.2C939.0,1391.4 941.1,1395.5 943.7,1399.6C946.3,1403.7 948.9,1412.4 951.5,1417.8C954.1,1423.2 956.7,1429.0 959.3,1432.0C961.9,1435.1 964.5,1436.2 967.0,1435.9C969.6,1435.7 972.2,1436.4 974.8,1430.7C977.4,1425.1 980.0,1414.8 982.6,1402.2C985.2,1389.7 987.8,1368.1 990.4,1355.6C993.0,1343.0 996.0,1332.2 998.2,1327.0C1000.3,1321.9 1001.2,1321.4 1003.3,1324.4C1005.5,1327.5 1008.5,1333.5 1011.1,1345.2C1013.7,1356.9 1016.3,1379.3 1018.9,1394.5C1021.5,1409.6 1024.5,1426.9 1026.7,1435.9C1028.8,1445.0 1029.9,1446.7 1031.9,1448.9C1033.8,1451.1 1036.2,1450.6 1038.3,1448.9C1040.5,1447.2 1042.4,1443.3 1044.8,1438.5C1047.2,1433.8 1050.0,1424.5 1052.6,1420.4C1055.2,1416.3 1058.0,1413.9 1060.4,1413.9C1062.8,1413.9 1065.3,1418.0 1066.9,1420.4C1068.5,1422.8 1068.5,1423.4 1070.0,1428.2C1071.4,1432.9 1073.8,1446.7 1075.6,1448.9C1077.4,1451.1 1078.6,1448.0 1080.7,1441.1C1082.9,1434.2 1085.9,1421.7 1088.5,1407.4C1091.1,1393.2 1093.7,1372.0 1096.3,1355.6C1098.9,1339.1 1101.9,1320.6 1104.1,1308.9C1106.2,1297.2 1107.3,1286.9 1109.3,1285.6C1111.2,1284.3 1113.6,1289.4 1115.7,1301.1C1117.9,1312.8 1120.1,1336.5 1122.2,1355.6C1124.4,1374.6 1126.5,1398.8 1128.7,1415.2C1130.9,1431.6 1133.2,1445.7 1135.2,1454.1C1137.1,1462.5 1138.4,1465.3 1140.4,1465.8C1142.3,1466.2 1144.7,1462.9 1146.9,1456.7C1149.0,1450.4 1151.0,1439.4 1153.3,1428.2C1155.7,1416.9 1159.0,1398.6 1161.1,1389.3C1163.3,1380.0 1164.6,1374.1 1166.3,1372.4C1168.0,1370.7 1169.3,1373.5 1171.5,1378.9C1173.6,1384.3 1176.7,1395.7 1179.3,1404.8C1181.9,1413.9 1184.7,1426.9 1187.0,1433.3C1189.4,1439.8 1191.4,1443.3 1193.5,1443.7C1195.7,1444.1 1197.6,1443.7 1200.0,1435.9C1202.4,1428.2 1205.2,1411.3 1207.8,1397.0C1210.4,1382.8 1213.2,1362.5 1215.6,1350.4C1217.9,1338.3 1219.9,1328.3 1222.0,1324.4C1224.2,1320.6 1226.1,1321.0 1228.5,1327.0C1230.9,1333.1 1233.9,1347.4 1236.3,1360.7C1238.7,1374.1 1240.6,1393.2 1242.8,1407.4C1244.9,1421.7 1247.1,1436.6 1249.3,1446.3C1251.4,1456.0 1253.6,1464.0 1255.7,1465.8C1257.9,1467.5 1260.3,1462.1 1262.2,1456.7C1264.2,1451.3 1265.3,1444.6 1267.4,1433.3C1269.6,1422.1 1272.6,1400.9 1275.2,1389.3C1277.8,1377.6 1280.4,1365.9 1283.0,1363.3C1285.6,1360.7 1288.2,1367.2 1290.7,1373.7C1293.3,1380.2 1295.9,1393.6 1298.5,1402.2C1301.1,1410.9 1303.9,1421.7 1306.3,1425.6C1308.7,1429.5 1310.6,1432.0 1312.8,1425.6C1314.9,1419.1 1316.9,1404.0 1319.3,1386.7C1321.6,1369.4 1324.9,1335.3 1327.0,1321.9C1329.2,1308.5 1330.3,1308.0 1332.2,1306.3C1334.2,1304.6 1336.6,1304.1 1338.7,1311.5C1340.9,1318.8 1342.8,1334.4 1345.2,1350.4C1347.6,1366.4 1350.5,1392.3 1353.0,1407.4C1355.4,1422.5 1357.9,1435.7 1360.0,1441.1C1362.1,1446.5 1363.3,1443.7 1365.6,1439.8C1367.8,1435.9 1370.3,1424.5 1373.3,1417.8C1376.4,1411.1 1380.7,1401.4 1383.7,1399.6C1386.7,1397.9 1388.5,1402.7 1391.5,1407.4C1394.5,1412.2 1399.0,1424.3 1401.9,1428.2C1404.7,1432.0 1406.0,1432.3 1408.3,1430.7C1410.7,1429.2 1413.7,1421.7 1416.1,1419.1C1418.5,1416.5 1420.2,1414.5 1422.6,1415.2C1425.0,1415.8 1427.8,1419.5 1430.4,1423.0C1433.0,1426.4 1436.0,1435.1 1438.2,1435.9C1440.3,1436.8 1441.2,1437.2 1443.3,1428.2C1445.5,1419.1 1448.5,1396.2 1451.1,1381.5C1453.7,1366.8 1456.7,1349.5 1458.9,1340.0C1461.1,1330.5 1462.1,1324.9 1464.1,1324.4C1466.0,1324.0 1468.4,1327.9 1470.6,1337.4C1472.7,1346.9 1474.9,1366.4 1477.0,1381.5C1479.2,1396.6 1481.4,1416.9 1483.5,1428.2C1485.7,1439.4 1487.6,1444.1 1490.0,1448.9C1492.4,1453.7 1495.2,1457.5 1497.8,1456.7C1500.4,1455.8 1503.0,1450.6 1505.6,1443.7C1508.2,1436.8 1511.0,1421.9 1513.3,1415.2C1515.7,1408.5 1517.2,1404.4 1519.8,1403.5C1522.4,1402.7 1526.1,1406.8 1528.9,1410.0C1531.7,1413.2 1534.3,1421.7 1536.7,1423.0C1539.1,1424.3 1541.0,1423.8 1543.2,1417.8C1545.3,1411.7 1547.3,1398.8 1549.6,1386.7C1552.0,1374.6 1555.0,1354.5 1557.4,1345.2C1559.8,1335.9 1561.7,1330.9 1563.9,1330.9C1566.1,1330.9 1568.0,1337.6 1570.4,1345.2C1572.8,1352.8 1576.0,1370.3 1578.2,1376.3C1580.3,1382.4 1581.2,1384.9 1583.3,1381.5C1585.5,1378.0 1588.5,1363.8 1591.1,1355.6C1593.7,1347.4 1596.5,1335.7 1598.9,1332.2C1601.3,1328.8 1603.2,1328.8 1605.4,1334.8C1607.5,1340.9 1609.7,1356.4 1611.9,1368.5C1614.0,1380.6 1616.6,1398.8 1618.3,1407.4C1620.1,1416.1 1620.7,1422.1 1622.2,1420.4C1623.7,1418.7 1625.7,1412.2 1627.4,1397.0C1629.1,1381.9 1630.9,1350.4 1632.6,1329.6C1634.3,1308.9 1636.1,1286.4 1637.8,1272.6C1639.5,1258.8 1641.2,1250.1 1643.0,1246.7C1644.7,1243.2 1646.9,1247.8 1648.2,1251.9C1649.4,1255.9 1648.7,1255.6 1650.4,1271.2C1652.2,1286.9 1655.9,1321.9 1658.7,1345.9C1661.5,1369.8 1664.5,1399.3 1667.0,1415.0C1669.5,1430.7 1671.6,1442.2 1673.9,1439.9C1676.2,1437.6 1678.3,1422.4 1680.8,1401.2C1683.4,1380.0 1686.4,1338.0 1689.1,1312.7C1691.9,1287.4 1695.1,1262.0 1697.4,1249.1C1699.7,1236.2 1701.1,1235.3 1702.9,1235.3C1704.8,1235.3 1706.4,1235.3 1708.5,1249.1C1710.5,1262.9 1712.8,1293.8 1715.4,1318.2C1717.9,1342.7 1721.1,1379.5 1723.7,1395.6C1726.2,1411.8 1727.6,1411.5 1730.6,1415.0C1733.6,1418.5 1737.5,1415.7 1741.6,1416.4C1745.8,1417.1 1751.8,1420.3 1755.5,1419.1C1759.2,1418.0 1761.2,1413.4 1763.8,1409.5C1766.3,1405.6 1768.4,1398.4 1770.7,1395.6C1773.0,1392.9 1775.1,1392.0 1777.6,1392.9C1780.1,1393.8 1783.1,1396.6 1785.9,1401.2C1788.6,1405.8 1791.4,1414.1 1794.2,1420.5C1796.9,1427.0 1799.7,1436.7 1802.5,1439.9C1805.2,1443.1 1808.5,1444.0 1810.8,1439.9C1813.1,1435.7 1814.2,1430.2 1816.3,1415.0C1818.4,1399.8 1821.1,1367.5 1823.2,1348.6C1825.3,1329.8 1827.1,1310.9 1828.7,1301.6C1830.3,1292.4 1831.3,1292.9 1832.9,1293.4C1834.5,1293.8 1836.3,1293.8 1838.4,1304.4C1840.5,1315.0 1843.0,1337.1 1845.3,1356.9C1847.6,1376.8 1849.9,1408.1 1852.2,1423.3C1854.5,1438.5 1856.8,1443.1 1859.1,1448.2C1861.5,1453.2 1863.5,1456.0 1866.1,1453.7C1868.6,1451.4 1871.6,1442.2 1874.4,1434.4C1877.1,1426.5 1879.9,1414.5 1882.6,1406.7C1885.4,1398.9 1888.6,1391.5 1890.9,1387.4C1893.2,1383.2 1894.4,1381.4 1896.5,1381.8C1898.5,1382.3 1901.1,1385.5 1903.4,1390.1C1905.7,1394.7 1907.5,1402.1 1910.3,1409.5C1913.1,1416.8 1916.9,1431.6 1920.0,1434.4C1923.1,1437.1 1926.2,1431.2 1929.0,1426.0C1931.8,1420.8 1933.8,1412.7 1936.6,1403.2C1939.5,1393.7 1942.8,1379.1 1946.1,1369.0C1949.4,1358.8 1952.9,1344.2 1956.4,1342.3C1959.9,1340.4 1962.4,1348.0 1967.1,1357.6C1971.7,1367.1 1979.1,1390.5 1984.2,1399.4C1989.2,1408.3 1993.4,1407.6 1997.5,1410.8C2001.6,1414.0 2004.5,1414.6 2008.9,1418.4C2013.3,1422.2 2019.7,1433.0 2024.1,1433.6C2028.5,1434.3 2031.7,1431.1 2035.5,1422.2C2039.3,1413.3 2043.1,1395.6 2046.9,1380.4C2050.7,1365.2 2055.3,1341.7 2058.3,1330.9C2061.4,1320.1 2062.7,1315.1 2065.2,1315.7C2067.7,1316.3 2070.6,1324.0 2073.6,1334.7C2076.5,1345.5 2079.9,1362.6 2083.1,1380.4C2086.2,1398.1 2089.7,1429.5 2092.6,1441.2C2095.4,1453.0 2097.7,1450.7 2100.2,1450.7C2102.7,1450.7 2104.6,1446.0 2107.8,1441.2C2111.0,1436.5 2115.4,1427.9 2119.2,1422.2C2123.0,1416.5 2127.0,1410.5 2130.6,1407.0C2134.2,1403.5 2137.4,1400.7 2140.9,1401.3C2144.4,1401.9 2148.2,1406.7 2151.5,1410.8C2154.9,1414.9 2157.6,1421.6 2161.0,1426.0C2164.5,1430.5 2169.0,1438.1 2172.5,1437.4C2175.9,1436.8 2179.6,1430.5 2182.0,1422.2C2184.4,1414.0 2185.2,1404.5 2186.9,1388.0C2188.6,1371.5 2190.5,1346.8 2192.2,1323.3C2193.9,1299.9 2195.7,1275.8 2197.2,1247.2C2198.7,1218.7 2200.1,1183.8 2201.4,1152.1C2202.6,1120.5 2203.8,1079.9 2204.8,1057.1C2205.7,1034.2 2206.7,1022.2 2207.1,1015.2" fill="none" stroke="#d95319" stroke-width="2.1" stroke-linejoin="round"/>
</g>
<path d="M274.7 1279.1H311.7M293.2 1260.6V1297.6M280.1 1266.0L306.3 1292.2M280.1 1292.2L306.3 1266.0" stroke="#000000" stroke-width="2.7" fill="none"/>
<path d="M382.8 1333.5H419.8M401.3 1315.0V1352.0M388.2 1320.4L414.4 1346.6M388.2 1346.6L414.4 1320.4" stroke="#000000" stroke-width="2.7" fill="none"/>
<path d="M511.3 1312.8H548.3M529.8 1294.3V1331.3M516.7 1299.7L542.9 1325.9M516.7 1325.9L542.9 1299.7" stroke="#000000" stroke-width="2.7" fill="none"/>
<path d="M628.2 1274.7H665.2M646.7 1256.2V1293.2M633.6 1261.6L659.8 1287.8M633.6 1287.8L659.8 1261.6" stroke="#000000" stroke-width="2.7" fill="none"/>
<path d="M734.2 1327.0H771.2M752.7 1308.5V1345.5M739.6 1313.9L765.8 1340.1M739.6 1340.1L765.8 1313.9" stroke="#000000" stroke-width="2.7" fill="none"/>
<path d="M861.7 1312.0H898.7M880.2 1293.5V1330.5M867.1 1298.9L893.3 1325.1M867.1 1325.1L893.3 1298.9" stroke="#000000" stroke-width="2.7" fill="none"/>
<path d="M984.1 1316.7H1021.1M1002.6 1298.2V1335.2M989.5 1303.6L1015.7 1329.8M989.5 1329.8L1015.7 1303.6" stroke="#000000" stroke-width="2.7" fill="none"/>
<path d="M1089.5 1274.4H1126.5M1108.0 1255.9V1292.9M1094.9 1261.3L1121.1 1287.5M1094.9 1287.5L1121.1 1261.3" stroke="#000000" stroke-width="2.7" fill="none"/>
<path d="M1204.3 1313.3H1241.3M1222.8 1294.8V1331.8M1209.7 1300.2L1235.9 1326.4M1209.7 1326.4L1235.9 1300.2" stroke="#000000" stroke-width="2.7" fill="none"/>
<path d="M1312.4 1297.2H1349.4M1330.9 1278.7V1315.7M1317.8 1284.1L1344.0 1310.3M1317.8 1310.3L1344.0 1284.1" stroke="#000000" stroke-width="2.7" fill="none"/>
<path d="M1445.6 1319.8H1482.6M1464.1 1301.3V1338.3M1451.0 1306.7L1477.2 1332.9M1451.0 1332.9L1477.2 1306.7" stroke="#000000" stroke-width="2.7" fill="none"/>
<path d="M1545.9 1324.4H1582.9M1564.4 1305.9V1342.9M1551.3 1311.3L1577.5 1337.5M1551.3 1337.5L1577.5 1311.3" stroke="#000000" stroke-width="2.7" fill="none"/>
<path d="M1683.1 1225.6H1720.1M1701.6 1207.1V1244.1M1688.5 1212.5L1714.7 1238.7M1688.5 1238.7L1714.7 1212.5" stroke="#000000" stroke-width="2.7" fill="none"/>
<path d="M1813.8 1286.4H1850.8M1832.3 1267.9V1304.9M1819.2 1273.3L1845.4 1299.5M1819.2 1299.5L1845.4 1273.3" stroke="#000000" stroke-width="2.7" fill="none"/>
<path d="M1937.9 1341.2H1974.9M1956.4 1322.7V1359.7M1943.3 1328.1L1969.5 1354.3M1943.3 1354.3L1969.5 1328.1" stroke="#000000" stroke-width="2.7" fill="none"/>
<path d="M2046.3 1311.1H2083.3M2064.8 1292.6V1329.6M2051.7 1298.0L2077.9 1324.2M2051.7 1324.2L2077.9 1298.0" stroke="#000000" stroke-width="2.7" fill="none"/>
<path d="M2122.4 1400.5H2159.4M2140.9 1382.0V1419.0M2127.8 1387.4L2154.0 1413.6M2127.8 1413.6L2154.0 1387.4" stroke="#000000" stroke-width="2.7" fill="none"/>
<line x1="190.0" y1="87.5" x2="2208.5" y2="87.5" stroke="#6e6e6e" stroke-width="4.2"/>
<line x1="190.0" y1="743.0" x2="2208.5" y2="743.0" stroke="#6e6e6e" stroke-width="4.2"/>
<line x1="191.5" y1="87.5" x2="191.5" y2="743.0" stroke="#363636" stroke-width="3.0"/>
<line x1="2207.0" y1="87.5" x2="2207.0" y2="743.0" stroke="#363636" stroke-width="3.0"/>
<line x1="195.3" y1="743.0" x2="195.3" y2="723.0" stroke="#363636" stroke-width="3"/>
<line x1="195.3" y1="87.5" x2="195.3" y2="107.5" stroke="#363636" stroke-width="3"/>
<text x="195.3" y="818" font-size="57" text-anchor="middle">50</text>
<line x1="396.5" y1="743.0" x2="396.5" y2="723.0" stroke="#363636" stroke-width="3"/>
<line x1="396.5" y1="87.5" x2="396.5" y2="107.5" stroke="#363636" stroke-width="3"/>
<text x="396.5" y="818" font-size="57" text-anchor="middle">51</text>
<line x1="597.7" y1="743.0" x2="597.7" y2="723.0" stroke="#363636" stroke-width="3"/>
<line x1="597.7" y1="87.5" x2="597.7" y2="107.5" stroke="#363636" stroke-width="3"/>
<text x="597.7" y="818" font-size="57" text-anchor="middle">52</text>
<line x1="798.9" y1="743.0" x2="798.9" y2="723.0" stroke="#363636" stroke-width="3"/>
<line x1="798.9" y1="87.5" x2="798.9" y2="107.5" stroke="#363636" stroke-width="3"/>
<text x="798.9" y="818" font-size="57" text-anchor="middle">53</text>
<line x1="1000.1" y1="743.0" x2="1000.1" y2="723.0" stroke="#363636" stroke-width="3"/>
<line x1="1000.1" y1="87.5" x2="1000.1" y2="107.5" stroke="#363636" stroke-width="3"/>
<text x="1000.1" y="818" font-size="57" text-anchor="middle">54</text>
<line x1="1201.3" y1="743.0" x2="1201.3" y2="723.0" stroke="#363636" stroke-width="3"/>
<line x1="1201.3" y1="87.5" x2="1201.3" y2="107.5" stroke="#363636" stroke-width="3"/>
<text x="1201.3" y="818" font-size="57" text-anchor="middle">55</text>
<line x1="1402.5" y1="743.0" x2="1402.5" y2="723.0" stroke="#363636" stroke-width="3"/>
<line x1="1402.5" y1="87.5" x2="1402.5" y2="107.5" stroke="#363636" stroke-width="3"/>
<text x="1402.5" y="818" font-size="57" text-anchor="middle">56</text>
<line x1="1603.7" y1="743.0" x2="1603.7" y2="723.0" stroke="#363636" stroke-width="3"/>
<line x1="1603.7" y1="87.5" x2="1603.7" y2="107.5" stroke="#363636" stroke-width="3"/>
<text x="1603.7" y="818" font-size="57" text-anchor="middle">57</text>
<line x1="1804.9" y1="743.0" x2="1804.9" y2="723.0" stroke="#363636" stroke-width="3"/>
<line x1="1804.9" y1="87.5" x2="1804.9" y2="107.5" stroke="#363636" stroke-width="3"/>
<text x="1804.9" y="818" font-size="57" text-anchor="middle">58</text>
<line x1="2006.1" y1="743.0" x2="2006.1" y2="723.0" stroke="#363636" stroke-width="3"/>
<line x1="2006.1" y1="87.5" x2="2006.1" y2="107.5" stroke="#363636" stroke-width="3"/>
<text x="2006.1" y="818" font-size="57" text-anchor="middle">59</text>
<line x1="2207.3" y1="743.0" x2="2207.3" y2="723.0" stroke="#363636" stroke-width="3"/>
<line x1="2207.3" y1="87.5" x2="2207.3" y2="107.5" stroke="#363636" stroke-width="3"/>
<text x="2207.3" y="818" font-size="57" text-anchor="middle">60</text>
<line x1="191.5" y1="639.4" x2="211.5" y2="639.4" stroke="#363636" stroke-width="3"/>
<line x1="2207.0" y1="639.4" x2="2187.0" y2="639.4" stroke="#363636" stroke-width="3"/>
<text x="175" y="661.9" font-size="57" text-anchor="end">1.4</text>
<line x1="191.5" y1="482.1" x2="211.5" y2="482.1" stroke="#363636" stroke-width="3"/>
<line x1="2207.0" y1="482.1" x2="2187.0" y2="482.1" stroke="#363636" stroke-width="3"/>
<text x="175" y="504.6" font-size="57" text-anchor="end">1.6</text>
<line x1="191.5" y1="324.9" x2="211.5" y2="324.9" stroke="#363636" stroke-width="3"/>
<line x1="2207.0" y1="324.9" x2="2187.0" y2="324.9" stroke="#363636" stroke-width="3"/>
<text x="175" y="347.4" font-size="57" text-anchor="end">1.8</text>
<line x1="191.5" y1="167.6" x2="211.5" y2="167.6" stroke="#363636" stroke-width="3"/>
<line x1="2207.0" y1="167.6" x2="2187.0" y2="167.6" stroke="#363636" stroke-width="3"/>
<text x="175" y="190.1" font-size="57" text-anchor="end">2</text>
<text x="1199.25" y="71.8" font-size="61.4" font-weight="bold" text-anchor="middle" fill="#000">Raw signal with detected peaks</text>
<text x="1199.75" y="894.6" font-size="62.6" text-anchor="middle">Time (s)</text>
<text transform="translate(70.5,415.25) rotate(-90)" x="0" y="0" font-size="62" text-anchor="middle">a.u.</text>
<line x1="190.0" y1="1011.4" x2="2208.5" y2="1011.4" stroke="#6e6e6e" stroke-width="4.2"/>
<line x1="190.0" y1="1667.8" x2="2208.5" y2="1667.8" stroke="#6e6e6e" stroke-width="4.2"/>
<line x1="191.5" y1="1011.4" x2="191.5" y2="1667.8" stroke="#363636" stroke-width="3.0"/>
<line x1="2207.0" y1="1011.4" x2="2207.0" y2="1667.8" stroke="#363636" stroke-width="3.0"/>
<line x1="195.3" y1="1667.8" x2="195.3" y2="1647.8" stroke="#363636" stroke-width="3"/>
<line x1="195.3" y1="1011.4" x2="195.3" y2="1031.4" stroke="#363636" stroke-width="3"/>
<text x="195.3" y="1743" font-size="57" text-anchor="middle">50</text>
<line x1="396.5" y1="1667.8" x2="396.5" y2="1647.8" stroke="#363636" stroke-width="3"/>
<line x1="396.5" y1="1011.4" x2="396.5" y2="1031.4" stroke="#363636" stroke-width="3"/>
<text x="396.5" y="1743" font-size="57" text-anchor="middle">51</text>
<line x1="597.7" y1="1667.8" x2="597.7" y2="1647.8" stroke="#363636" stroke-width="3"/>
<line x1="597.7" y1="1011.4" x2="597.7" y2="1031.4" stroke="#363636" stroke-width="3"/>
<text x="597.7" y="1743" font-size="57" text-anchor="middle">52</text>
<line x1="798.9" y1="1667.8" x2="798.9" y2="1647.8" stroke="#363636" stroke-width="3"/>
<line x1="798.9" y1="1011.4" x2="798.9" y2="1031.4" stroke="#363636" stroke-width="3"/>
<text x="798.9" y="1743" font-size="57" text-anchor="middle">53</text>
<line x1="1000.1" y1="1667.8" x2="1000.1" y2="1647.8" stroke="#363636" stroke-width="3"/>
<line x1="1000.1" y1="1011.4" x2="1000.1" y2="1031.4" stroke="#363636" stroke-width="3"/>
<text x="1000.1" y="1743" font-size="57" text-anchor="middle">54</text>
<line x1="1201.3" y1="1667.8" x2="1201.3" y2="1647.8" stroke="#363636" stroke-width="3"/>
<line x1="1201.3" y1="1011.4" x2="1201.3" y2="1031.4" stroke="#363636" stroke-width="3"/>
<text x="1201.3" y="1743" font-size="57" text-anchor="middle">55</text>
<line x1="1402.5" y1="1667.8" x2="1402.5" y2="1647.8" stroke="#363636" stroke-width="3"/>
<line x1="1402.5" y1="1011.4" x2="1402.5" y2="1031.4" stroke="#363636" stroke-width="3"/>
<text x="1402.5" y="1743" font-size="57" text-anchor="middle">56</text>
<line x1="1603.7" y1="1667.8" x2="1603.7" y2="1647.8" stroke="#363636" stroke-width="3"/>
<line x1="1603.7" y1="1011.4" x2="1603.7" y2="1031.4" stroke="#363636" stroke-width="3"/>
<text x="1603.7" y="1743" font-size="57" text-anchor="middle">57</text>
<line x1="1804.9" y1="1667.8" x2="1804.9" y2="1647.8" stroke="#363636" stroke-width="3"/>
<line x1="1804.9" y1="1011.4" x2="1804.9" y2="1031.4" stroke="#363636" stroke-width="3"/>
<text x="1804.9" y="1743" font-size="57" text-anchor="middle">58</text>
<line x1="2006.1" y1="1667.8" x2="2006.1" y2="1647.8" stroke="#363636" stroke-width="3"/>
<line x1="2006.1" y1="1011.4" x2="2006.1" y2="1031.4" stroke="#363636" stroke-width="3"/>
<text x="2006.1" y="1743" font-size="57" text-anchor="middle">59</text>
<line x1="2207.3" y1="1667.8" x2="2207.3" y2="1647.8" stroke="#363636" stroke-width="3"/>
<line x1="2207.3" y1="1011.4" x2="2207.3" y2="1031.4" stroke="#363636" stroke-width="3"/>
<text x="2207.3" y="1743" font-size="57" text-anchor="middle">60</text>
<text x="175" y="1690.3" font-size="57" text-anchor="end">-0.2</text>
<line x1="191.5" y1="1449.0" x2="211.5" y2="1449.0" stroke="#363636" stroke-width="3"/>
<line x1="2207.0" y1="1449.0" x2="2187.0" y2="1449.0" stroke="#363636" stroke-width="3"/>
<text x="175" y="1471.5" font-size="57" text-anchor="end">0</text>
<line x1="191.5" y1="1230.2" x2="211.5" y2="1230.2" stroke="#363636" stroke-width="3"/>
<line x1="2207.0" y1="1230.2" x2="2187.0" y2="1230.2" stroke="#363636" stroke-width="3"/>
<text x="175" y="1252.7" font-size="57" text-anchor="end">0.2</text>
<text x="175" y="1033.9" font-size="57" text-anchor="end">0.4</text>
<text x="1199.25" y="997.5" font-size="61.4" font-weight="bold" text-anchor="middle" fill="#000">Reconstructed signal with detected peaks</text>
<text x="1199.75" y="1819.5" font-size="62.6" text-anchor="middle">Time (s)</text>
<text transform="translate(51.6,1339.6) rotate(-90)" x="0" y="0" font-size="62" text-anchor="middle">a.u.</text></svg>
</body></html>
